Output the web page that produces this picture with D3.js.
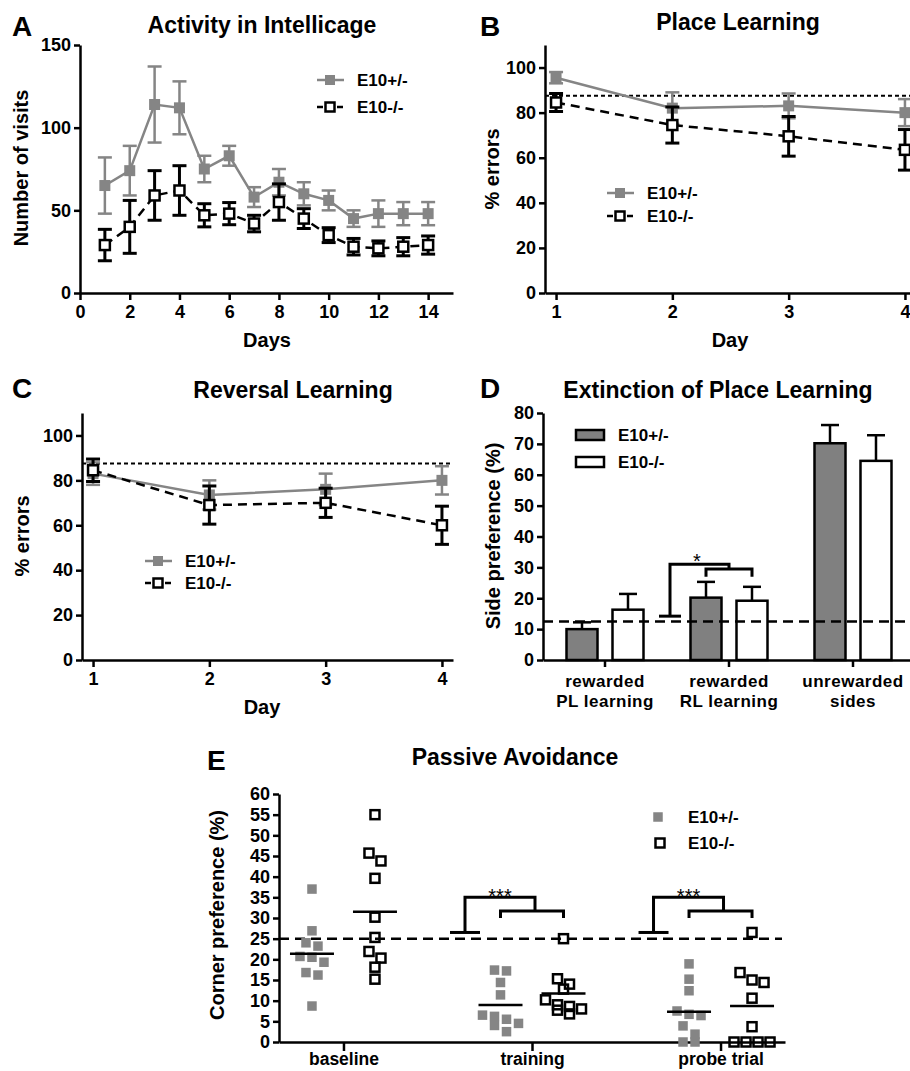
<!DOCTYPE html>
<html>
<head>
<meta charset="utf-8">
<script src="https://cdn.jsdelivr.net/npm/d3@7"></script>
<style>
    body { margin: 0; background: #fff; }
    svg { display: block; }
</style>
</head>
<body>
<script>
// Behavioural phenotyping of E10 mice: five panels (A-E)

// ---------- data ----------
var genotypes = ["E10+/-", "E10-/-"];

// A: activity in Intellicage (visits per day, mean and SEM)
var daysA = [1, 2, 3, 4, 5, 6, 7, 8, 9, 10, 11, 12, 13, 14];
var visitsHet = [65, 74, 114, 112, 75, 83, 58, 67, 60, 56, 45, 48, 48, 48];
var visitsHetSem = [17, 15, 23, 16, 8, 6, 6, 8, 7, 6, 5, 8, 7, 7];
var visitsKo = [29, 40, 59, 62, 47, 48, 42, 55, 45, 35, 28, 27, 28, 29];
var visitsKoSem = [9.5, 16, 15, 15, 7, 6.7, 5, 11, 6, 4.5, 5, 4.5, 5.5, 5.5];

// B: place learning (% errors)
var daysB = [1, 2, 3, 4];
var placeHet = [95.5, 82, 83, 80];
var placeHetSem = [2.5, 7, 5.5, 6];
var placeKo = [84.5, 74.5, 69.5, 63.5];
var placeKoSem = [4, 8, 8.8, 9];

// C: reversal learning (% errors)
var reversalHet = [83, 73.5, 76, 80];
var reversalHetSem = [5, 6.5, 7, 6.3];
var reversalKo = [84.5, 69, 70, 60];
var reversalKoSem = [5, 8.5, 6.5, 8.5];

// D: extinction of place learning (side preference %)
var sideCategories = ["rewarded\nPL learning", "rewarded\nRL learning", "unrewarded\nsides"];
var sideHet = [10, 20.2, 70.2];
var sideHetSem = [2.2, 5.1, 5.9];
var sideKo = [16.3, 19.2, 64.5];
var sideKoSem = [5.1, 4.5, 8.3];

// E: passive avoidance (corner preference % per animal)
var phases = ["baseline", "training", "probe trial"];
var cornerHet = [
    [37, 26.9, 24, 23.2, 20.7, 20.5, 19.3, 16.8, 16.2, 8.7],
    [17.4, 17.2, 14.4, 11.4, 6.5, 6.2, 5.5, 4.5, 4, 2.5],
    [18.9, 15.2, 12.4, 7.5, 6.7, 6.4, 3.9, 1.9, 0, 0]
];
var cornerKo = [
    [55, 45.7, 43.8, 39.6, 30.2, 25.3, 21.9, 20.3, 18.1, 15.2],
    [25, 15.3, 14, 12.8, 10.2, 9, 8.6, 8, 7.7, 6.8],
    [26.5, 16.8, 15, 14.4, 10.6, 3.7, 0, 0, 0, 0]
];

// chance levels
var chancePlace = 87.5;
var chanceSide = 12.5;
var chanceCorner = 25;

// ---------- styles ----------
var FONT = "'Liberation Sans', Arial, Helvetica, sans-serif";
var GREY = "#858585";

var svg = d3.select("body").append("svg")
    .attr("width", 910)
    .attr("height", 1071)
    .attr("font-family", FONT)
    .attr("font-weight", "bold");

svg.append("rect").attr("width", 910).attr("height", 1071).attr("fill", "#fff");

// ---------- helpers ----------
function styleAxis(g, size) {
    g.attr("font-family", FONT).attr("font-size", size || 18).attr("font-weight", "bold");
    g.select(".domain").attr("stroke", "#000").attr("stroke-width", 2.5);
    g.selectAll(".tick line").attr("stroke", "#000").attr("stroke-width", 2.5);
    g.selectAll(".tick text").attr("fill", "#000");
}

function addText(x, y, str, size, anchor) {
    return svg.append("text")
        .attr("x", x)
        .attr("y", y)
        .attr("font-size", size)
        .attr("text-anchor", anchor || "middle")
        .text(str);
}

function addYTitle(cx, cy, str, size) {
    svg.append("text")
        .attr("transform", "translate(" + (cx + size * 0.36) + "," + cy + ") rotate(-90)")
        .attr("font-size", size)
        .attr("text-anchor", "middle")
        .text(str);
}

function seriesStyle(i) {
    return i === 0
        ? { color: GREY, dash: null, fill: GREY, stroke: "none", size: 11, width: 2.5 }
        : { color: "#000", dash: "9,6", fill: "#fff", stroke: "#000", size: 10, width: 3 };
}

function drawMarker(g, cx, cy, st) {
    g.append("rect")
        .attr("x", cx - st.size / 2)
        .attr("y", cy - st.size / 2)
        .attr("width", st.size)
        .attr("height", st.size)
        .attr("fill", st.fill)
        .attr("stroke", st.stroke)
        .attr("stroke-width", 2.5);
}

// one series of a line panel: line, error bars, markers
function drawSeries(g, x, y, days, mean, sem, st) {
    var pts = days.map(function (d, i) {
        return { day: d, mean: mean[i], sem: sem[i] };
    });
    var line = d3.line()
        .x(function (d) { return x(d.day); })
        .y(function (d) { return y(d.mean); });
    g.append("path")
        .datum(pts)
        .attr("d", line)
        .attr("fill", "none")
        .attr("stroke", st.color)
        .attr("stroke-width", 2.5)
        .attr("stroke-dasharray", st.dash);

    var cap = 7;
    pts.forEach(function (d) {
        var cx = x(d.day), top = y(d.mean + d.sem), bot = y(d.mean - d.sem);
        var eb = g.append("g").attr("stroke", st.color).attr("stroke-width", st.width);
        eb.append("line").attr("x1", cx).attr("x2", cx).attr("y1", top).attr("y2", bot);
        eb.append("line").attr("x1", cx - cap).attr("x2", cx + cap).attr("y1", top).attr("y2", top);
        eb.append("line").attr("x1", cx - cap).attr("x2", cx + cap).attr("y1", bot).attr("y2", bot);
    });
    pts.forEach(function (d) {
        drawMarker(g, x(d.day), y(d.mean), st);
    });
}

function drawLineLegend(lx, ly, gap) {
    genotypes.forEach(function (name, i) {
        var st = seriesStyle(i);
        var yy = ly + i * gap;
        svg.append("line")
            .attr("x1", lx).attr("x2", lx + 27)
            .attr("y1", yy).attr("y2", yy)
            .attr("stroke", st.color)
            .attr("stroke-width", 2.5)
            .attr("stroke-dasharray", i === 0 ? null : "6,4");
        drawMarker(svg, lx + 13, yy, { size: i === 0 ? 10 : 9, fill: st.fill, stroke: st.stroke });
        addText(lx + 40, yy + 6, name, 17, "start");
    });
}

function drawLinePanel(p) {
    var g = svg.append("g");

    if (p.chance != null) {
        g.append("line")
            .attr("x1", p.x.range()[0]).attr("x2", p.x.range()[1])
            .attr("y1", p.y(p.chance)).attr("y2", p.y(p.chance))
            .attr("stroke", "#000")
            .attr("stroke-width", 2)
            .attr("stroke-dasharray", "4,3");
    }

    var xAxis = g.append("g")
        .attr("transform", "translate(0," + p.y.range()[0] + ")")
        .call(d3.axisBottom(p.x).tickValues(p.xTicks).tickSize(7).tickPadding(5)
            .tickSizeOuter(0).tickFormat(d3.format("d")));
    styleAxis(xAxis);

    var yAxis = g.append("g")
        .attr("transform", "translate(" + p.x.range()[0] + ",0)")
        .call(d3.axisLeft(p.y).tickValues(p.yTicks).tickSize(6).tickPadding(3).tickSizeOuter(0));
    styleAxis(yAxis);

    p.series.forEach(function (s, i) {
        drawSeries(g, p.x, p.y, p.days, s.mean, s.sem, seriesStyle(i));
    });
}

// ---------- panel A ----------
var xA = d3.scaleLinear().domain([0, 15]).range([80, 453]);
var yA = d3.scaleLinear().domain([0, 150]).range([293, 45]);
drawLinePanel({
    x: xA, y: yA, days: daysA,
    xTicks: d3.range(0, 15, 2), yTicks: [0, 50, 100, 150],
    series: [{ mean: visitsHet, sem: visitsHetSem }, { mean: visitsKo, sem: visitsKoSem }]
});
drawLineLegend(317, 80, 27);
addText(12, 36, "A", 28, "start");
addText(262, 33, "Activity in Intellicage", 23);
addYTitle(21, 168, "Number of visits", 20);
addText(267, 347, "Days", 20);

// ---------- panel B ----------
var xB = d3.scaleLinear().domain([0.905, 4.095]).range([545, 916]);
var yB = d3.scaleLinear().domain([0, 110]).range([293, 45]);
drawLinePanel({
    x: xB, y: yB, days: daysB, chance: chancePlace,
    xTicks: daysB, yTicks: [0, 20, 40, 60, 80, 100],
    series: [{ mean: placeHet, sem: placeHetSem }, { mean: placeKo, sem: placeKoSem }]
});
drawLineLegend(607, 193, 23);
addText(480, 36, "B", 28, "start");
addText(738, 30, "Place Learning", 23);
addYTitle(492, 169, "% errors", 20);
addText(730, 347, "Day", 20);

// ---------- panel C ----------
var xC = d3.scaleLinear().domain([0.905, 4.095]).range([82, 453]);
var yC = d3.scaleLinear().domain([0, 110]).range([660, 413]);
drawLinePanel({
    x: xC, y: yC, days: daysB, chance: chancePlace,
    xTicks: daysB, yTicks: [0, 20, 40, 60, 80, 100],
    series: [{ mean: reversalHet, sem: reversalHetSem }, { mean: reversalKo, sem: reversalKoSem }]
});
drawLineLegend(145, 561, 22);
addText(12, 398, "C", 28, "start");
addText(293, 398, "Reversal Learning", 23);
addYTitle(22, 536, "% errors", 20);
addText(262, 714, "Day", 20);

// ---------- panel D ----------
var xD = d3.scaleBand().domain(sideCategories).range([543, 915]);
var xDInner = d3.scaleBand().domain(genotypes).range([0, xD.bandwidth()])
    .paddingInner(0.326).paddingOuter(0.511);
var yD = d3.scaleLinear().domain([0, 80]).range([660, 413]);

var gD = svg.append("g");
var sideValues = [sideHet, sideKo];
var sideSems = [sideHetSem, sideKoSem];

sideCategories.forEach(function (cat, i) {
    genotypes.forEach(function (gen, j) {
        var bx = xD(cat) + xDInner(gen);
        var v = sideValues[j][i];
        var cx = bx + xDInner.bandwidth() / 2;
        var top = yD(v + sideSems[j][i]);
        gD.append("line")
            .attr("x1", cx).attr("x2", cx).attr("y1", yD(v)).attr("y2", top)
            .attr("stroke", "#000").attr("stroke-width", 2.5);
        gD.append("line")
            .attr("x1", cx - 9).attr("x2", cx + 9).attr("y1", top).attr("y2", top)
            .attr("stroke", "#000").attr("stroke-width", 2.5);
        gD.append("rect")
            .attr("x", bx)
            .attr("y", yD(v))
            .attr("width", xDInner.bandwidth())
            .attr("height", yD(0) - yD(v))
            .attr("fill", j === 0 ? "#808080" : "#fff")
            .attr("stroke", "#000")
            .attr("stroke-width", 2.5);
    });
});

gD.append("line")
    .attr("x1", xD.range()[0]).attr("x2", xD.range()[1])
    .attr("y1", yD(chanceSide)).attr("y2", yD(chanceSide))
    .attr("stroke", "#000").attr("stroke-width", 2.5).attr("stroke-dasharray", "10,6");

var xAxisD = gD.append("g")
    .attr("transform", "translate(0," + yD(0) + ")")
    .call(d3.axisBottom(xD).tickSize(7).tickPadding(8).tickSizeOuter(0));
styleAxis(xAxisD, 17);
xAxisD.selectAll(".tick text")
    .attr("dy", null)
    .attr("letter-spacing", 0.5)
    .text(null)
    .selectAll("tspan")
    .data(function (d) { return d.split("\n"); })
    .join("tspan")
    .attr("x", 0)
    .attr("dy", function (d, i) { return i === 0 ? "0.71em" : "1.15em"; })
    .text(function (d) { return d; });

var yAxisD = gD.append("g")
    .attr("transform", "translate(" + xD.range()[0] + ",0)")
    .call(d3.axisLeft(yD).ticks(8).tickSize(6).tickPadding(3).tickSizeOuter(0));
styleAxis(yAxisD);

// significance bracket (RL learning)
var rl = sideCategories[1];
var rlHet = xD(rl) + xDInner(genotypes[0]) + xDInner.bandwidth() / 2;
var rlKo = xD(rl) + xDInner(genotypes[1]) + xDInner.bandwidth() / 2;
var stemD = xD(rl) + 3;
var bracketD = gD.append("g").attr("fill", "none").attr("stroke", "#000").attr("stroke-width", 3);
bracketD.append("line")
    .attr("x1", stemD - 11).attr("x2", stemD + 11)
    .attr("y1", yD(14.2)).attr("y2", yD(14.2));
bracketD.append("path")
    .attr("d", "M" + stemD + "," + yD(14.2) + "V" + yD(31) + "H" + ((rlHet + rlKo) / 2) + "V" + yD(29.5));
bracketD.append("path")
    .attr("d", "M" + rlHet + "," + yD(27) + "V" + yD(29.5) + "H" + rlKo + "V" + yD(27));
addText((stemD + rlKo) / 2 - 14, yD(31) + 4, "*", 20).attr("font-weight", "normal");

// legend D
genotypes.forEach(function (gen, j) {
    var yy = 430 + j * 27;
    svg.append("rect")
        .attr("x", 576).attr("y", yy).attr("width", 28).attr("height", 10)
        .attr("fill", j === 0 ? "#808080" : "#fff")
        .attr("stroke", "#000").attr("stroke-width", 2.5);
    addText(618, yy + 11, gen, 17, "start");
});

addText(480, 398, "D", 28, "start");
addText(718, 398, "Extinction of Place Learning", 23);
addYTitle(493, 536, "Side preference (%)", 20);

// ---------- panel E ----------
var xE = d3.scalePoint().domain(phases).range([279, 785]).padding(0.342);
var yE = d3.scaleLinear().domain([0, 60]).range([1042, 794]);
var gE = svg.append("g");
var groupOffset = [-31.5, 31.5];

gE.append("line")
    .attr("x1", xE.range()[0]).attr("x2", xE.range()[1] - 3)
    .attr("y1", yE(chanceCorner)).attr("y2", yE(chanceCorner))
    .attr("stroke", "#000").attr("stroke-width", 2.5).attr("stroke-dasharray", "10,6");

var xAxisE = gE.append("g")
    .attr("transform", "translate(0," + yE(0) + ")")
    .call(d3.axisBottom(xE).tickSize(9).tickPadding(2).tickSizeOuter(0));
styleAxis(xAxisE, 17.5);

var yAxisE = gE.append("g")
    .attr("transform", "translate(" + xE.range()[0] + ",0)")
    .call(d3.axisLeft(yE).tickValues(d3.range(0, 61, 5)).tickSize(6).tickPadding(3).tickSizeOuter(0));
styleAxis(yAxisE);

// scatter dot plot: points closer than one marker height share a row, rows are centred
function dotRows(values, cx, gap, size) {
    var sorted = values.slice().sort(function (a, b) { return b - a; });
    var rows = [];
    sorted.forEach(function (v) {
        var row = rows[rows.length - 1];
        if (row && yE(v) - yE(row[0]) < size) row.push(v);
        else rows.push([v]);
    });
    var out = [];
    rows.forEach(function (row) {
        row.forEach(function (v, k) {
            out.push({ x: cx + (k - (row.length - 1) / 2) * gap, y: yE(v) });
        });
    });
    return out;
}

var cornerValues = [cornerHet, cornerKo];
phases.forEach(function (ph, i) {
    genotypes.forEach(function (gen, j) {
        var cx = xE(ph) + groupOffset[j];
        var vals = cornerValues[j][i];
        var pts = dotRows(vals, cx, 12, 10);
        var s = j === 0 ? 9.5 : 9;
        gE.append("g").selectAll("rect")
            .data(pts)
            .join("rect")
            .attr("x", function (d) { return d.x - s / 2; })
            .attr("y", function (d) { return d.y - s / 2; })
            .attr("width", s)
            .attr("height", s)
            .attr("fill", j === 0 ? GREY : "none")
            .attr("stroke", j === 0 ? "none" : "#000")
            .attr("stroke-width", 2.5);
        var m = d3.mean(vals);
        gE.append("line")
            .attr("x1", cx - 22).attr("x2", cx + 22)
            .attr("y1", yE(m)).attr("y2", yE(m))
            .attr("stroke", "#000").attr("stroke-width", 2.5);
    });
});

// significance brackets (training and probe trial vs baseline)
[1, 2].forEach(function (i) {
    var c = xE(phases[i]);
    var stem = c - 67;
    var hetC = c + groupOffset[0], koC = c + groupOffset[1];
    var br = gE.append("g").attr("fill", "none").attr("stroke", "#000").attr("stroke-width", 3);
    br.append("line")
        .attr("x1", stem - 15).attr("x2", stem + 15)
        .attr("y1", yE(26.5)).attr("y2", yE(26.5));
    br.append("path")
        .attr("d", "M" + stem + "," + yE(26.5) + "V" + yE(35) + "H" + (c + 3) + "V" + yE(31.7));
    br.append("path")
        .attr("d", "M" + hetC + "," + yE(30) + "V" + yE(31.7) + "H" + koC + "V" + yE(30));
    addText(c - 32, yE(35) + 6, "***", 20).attr("font-weight", "normal");
});

// legend E
genotypes.forEach(function (gen, j) {
    var yy = 817 + j * 26;
    var s = j === 0 ? 9.5 : 9;
    svg.append("rect")
        .attr("x", 658 + j * 2 - s / 2).attr("y", yy - s / 2).attr("width", s).attr("height", s)
        .attr("fill", j === 0 ? GREY : "none")
        .attr("stroke", j === 0 ? "none" : "#000")
        .attr("stroke-width", 2.5);
    addText(688, yy + 6, gen, 17, "start");
});

addText(207, 770, "E", 28, "start");
addText(515, 765, "Passive Avoidance", 23);
addYTitle(217, 915, "Corner preference (%)", 20);
</script>
</body>
</html>
